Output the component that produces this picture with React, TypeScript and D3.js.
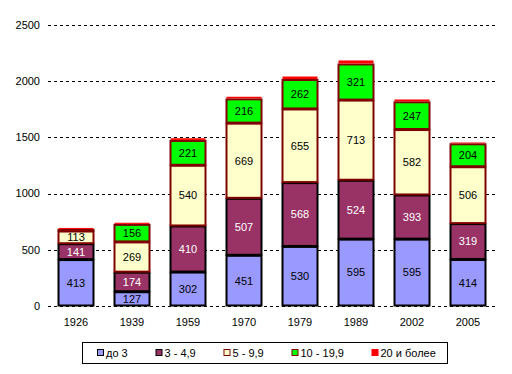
import React from "react";
import * as d3 from "d3";

const categories = ["1926", "1939", "1959", "1970", "1979", "1989", "2002", "2005"];
const seriesNames = ["до 3", "3 - 4,9", "5 - 9,9", "10 - 19,9", "20 и более"];
const s1 = [413, 127, 302, 451, 530, 595, 595, 414];
const s2 = [141, 174, 410, 507, 568, 524, 393, 319];
const s3 = [113, 269, 540, 669, 655, 713, 582, 506];
const s4 = [14, 156, 221, 216, 262, 321, 247, 204];
const s5 = [18, 19, 24, 23, 31, 36, 25, 16];
const yTicks = [0, 500, 1000, 1500, 2000, 2500];

const fills = ["#9999FF", "#993366", "#FFFFCC", "#00FF00", "#FF0000"];
const strokes = ["#000000", "#000000", "#800000", "#800000", "#FF0000"];
const textColors = ["#000", "#fff", "#000", "#000", "#000"];

export default function App() {
  const W = 512, H = 374;
  const left = 48, right = 496, top = 25, bottom = 306;
  const x = d3.scaleBand().domain(categories).range([left, right]).paddingInner(20 / 56).paddingOuter(10 / 56);
  const y = d3.scaleLinear().domain([0, 2500]).range([bottom, top]);
  const series = [s1, s2, s3, s4, s5];
  const table = categories.map((c, i) => {
    const o: any = { cat: c };
    seriesNames.forEach((n, k) => (o[n] = series[k][i]));
    return o;
  });
  const stack = d3.stack<any>().keys(seriesNames)(table);
  const font = "'Liberation Sans', Arial, sans-serif";
  const legendX = [97, 155.5, 223.5, 291.5, 371.5];

  return (
    <svg width={W} height={H} style={{ position: "absolute", left: 0, top: 0, background: "#fff" }} fontFamily={font}>
      {yTicks.map((t) => (
        <g key={t}>
          <line x1={left} x2={right} y1={Math.round(y(t)) + 0.5} y2={Math.round(y(t)) + 0.5} stroke="#000" strokeDasharray="3,3" />
          <text x={40} y={y(t)} dy="0.35em" textAnchor="end" fontSize={11}>{t}</text>
        </g>
      ))}
      {stack.map((layer, k) => (
        <g key={k}>
          {layer.map((d, i) => {
            const bx = x(categories[i])!;
            const y0 = y(d[0]), y1 = y(d[1]);
            return (
              <rect key={i} x={bx + 0.5} y={y1 + 0.5} width={x.bandwidth() - 1} height={Math.max(0, y0 - y1 - 1)}
                fill={fills[k]} stroke={strokes[k]} strokeWidth={k === 4 ? 0 : 2} />
            );
          })}
        </g>
      ))}
      {stack.map((layer, k) =>
        k < 4 ? (
          <g key={"l" + k}>
            {layer.map((d, i) => {
              const y0 = y(d[0]), y1 = y(d[1]);
              if (y0 - y1 < 10) return null;
              return (
                <text key={i} x={x(categories[i])! + x.bandwidth() / 2} y={(y0 + y1) / 2} dy="0.35em" textAnchor="middle" fontSize={11} fill={textColors[k]}>
                  {series[k][i]}
                </text>
              );
            })}
          </g>
        ) : null
      )}
      {categories.map((c) => (
        <text key={c} x={x(c)! + x.bandwidth() / 2} y={322} dy="0.35em" textAnchor="middle" fontSize={11}>{c}</text>
      ))}
      <rect x={82.5} y={342.5} width={365} height={21} fill="#fff" stroke="#000" />
      {seriesNames.map((n, k) => (
        <g key={n}>
          <rect x={legendX[k] + 0.5} y={349.5} width={6} height={6} fill={fills[k]} stroke={k === 4 ? "#FF0000" : strokes[k]} />
          <text x={legendX[k] + 9} y={353} dy="0.35em" fontSize={11}>{n}</text>
        </g>
      ))}
    </svg>
  );
}
